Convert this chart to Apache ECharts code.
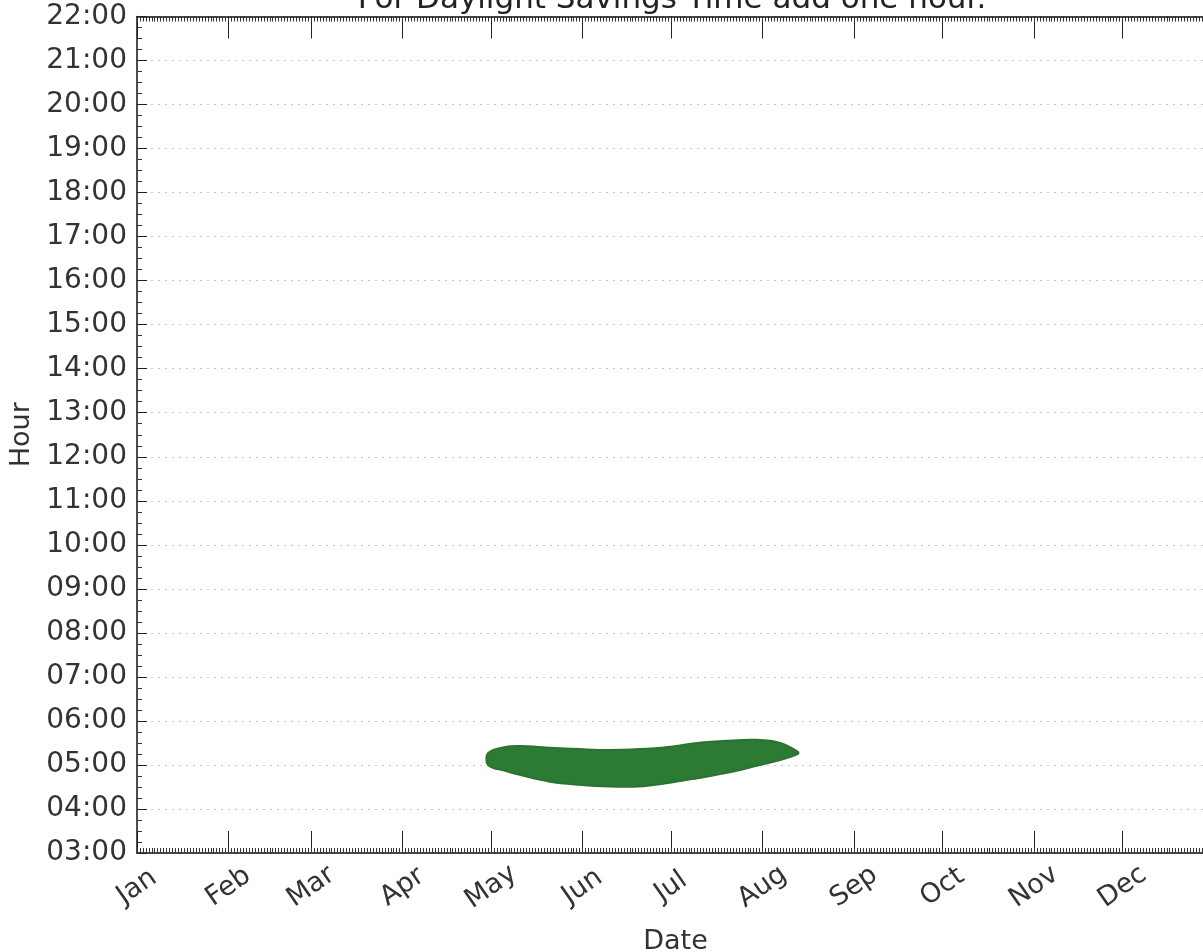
<!DOCTYPE html>
<html>
<head>
<meta charset="utf-8">
<script src="https://cdn.jsdelivr.net/npm/echarts@6/dist/echarts.min.js"></script>
<style>html,body{margin:0;padding:0;background:#fff;}#c{width:1203px;height:952px;}</style>
</head>
<body>
<div id="c"></div>
<script>
// Tick labels
var monthLabels = ['Jan','Feb','Mar','Apr','May','Jun','Jul','Aug','Sep','Oct','Nov','Dec'];
var monthStartDays = [0,31,59,90,120,151,181,212,243,273,304,334];
var hourLabels = ['03:00','04:00','05:00','06:00','07:00','08:00','09:00','10:00','11:00','12:00','13:00','14:00','15:00','16:00','17:00','18:00','19:00','20:00','21:00','22:00'];
var hourValues = [3,4,5,6,7,8,9,10,11,12,13,14,15,16,17,18,19,20,21,22];

// Observed band of points (day of year, hour in decimal)
var bandDays   = [119, 125, 130, 140, 150, 160, 170, 180, 190, 200, 210, 218, 224];
var bandTop    = [5.27, 5.41, 5.43, 5.39, 5.36, 5.34, 5.36, 5.41, 5.50, 5.55, 5.57, 5.50, 5.30];
var bandBottom = [5.00, 4.86, 4.77, 4.62, 4.55, 4.51, 4.51, 4.59, 4.70, 4.82, 4.98, 5.11, 5.25];

var titleText = 'For Daylight Savings Time add one hour.';
var FONT = 'DejaVu Sans';
var TXT = '#333333';

var chart = echarts.init(document.getElementById('c'), null, {renderer:'canvas'});

function mainX(pos) {
  return {
    type: 'value', position: pos, min: 0, max: 365, gridIndex: 0,
    axisLine: {show: true, onZero: false, lineStyle: {color: '#111', width: 1.5}},
    axisTick: {show: true, inside: true, length: 22, customValues: monthStartDays, lineStyle: {color: '#222', width: 1}},
    axisLabel: pos === 'bottom' ? {
      show: true, customValues: monthStartDays, rotate: 35, align: 'center', verticalAlign: 'middle',
      margin: 34, fontSize: 27, fontFamily: FONT, color: TXT,
      formatter: function (v) { var i = monthStartDays.indexOf(Math.round(v)); return i >= 0 ? monthLabels[i] : ''; }
    } : {show: false},
    splitLine: {show: false},
    name: pos === 'bottom' ? 'Date' : '',
    nameLocation: 'middle', nameGap: 75,
    nameTextStyle: {fontSize: 27, fontFamily: FONT, color: TXT}
  };
}
function minorX(pos) {
  return {
    type: 'value', position: pos, min: 0, max: 365, interval: 1, gridIndex: 0,
    axisLine: {show: false, onZero: false},
    axisTick: {show: true, inside: true, length: 5, lineStyle: {color: '#333', width: 1}},
    axisLabel: {show: false},
    splitLine: {show: false}
  };
}

var option = {
  backgroundColor: '#ffffff',
  animation: false,
  grid: {left: 137, top: 16.5, width: 1077, bottom: 99, containLabel: false, outerBoundsMode: 'none'},
  graphic: [{
    type: 'text', z: 100,
    style: {text: titleText, x: 672, y: 15, align: 'center', verticalAlign: 'bottom',
            font: '31px "DejaVu Sans"', fill: '#222'}
  }],
  xAxis: [mainX('bottom'), minorX('bottom'), mainX('top'), minorX('top')],
  yAxis: [{
    type: 'value', min: 3, max: 22, interval: 1, position: 'left',
    axisLine: {show: true, lineStyle: {color: '#111', width: 1.5}},
    axisTick: {show: true, inside: true, length: 10, lineStyle: {color: '#222'}},
    minorTick: {show: true, splitNumber: 4, length: 5, lineStyle: {color: '#333'}},
    axisLabel: {show: true, margin: 10, fontSize: 28, fontFamily: FONT, color: TXT,
      formatter: function (v) { var i = hourValues.indexOf(Math.round(v)); return i >= 0 ? hourLabels[i] : ''; }},
    splitLine: {show: true, lineStyle: {color: '#c4c4c4', width: 1, type: [2, 5]}},
    name: 'Hour', nameLocation: 'middle', nameGap: 95, nameRotate: 90,
    nameTextStyle: {fontSize: 27, fontFamily: FONT, color: TXT}
  }],
  series: [{
    type: 'custom',
    coordinateSystem: 'cartesian2d',
    xAxisIndex: 0, yAxisIndex: 0,
    data: [[bandDays[0], bandTop[0]]],
    renderItem: function (params, api) {
      var pts = [];
      for (var i = 0; i < bandDays.length; i++) pts.push(api.coord([bandDays[i], bandTop[i]]));
      for (var j = bandDays.length - 1; j >= 0; j--) pts.push(api.coord([bandDays[j], bandBottom[j]]));
      return {type: 'polygon', shape: {points: pts, smooth: 0.35},
              style: {fill: '#2d7a34', stroke: '#2a7331', lineWidth: 2}};
    }
  }]
};
chart.setOption(option);
</script>
</body>
</html>
